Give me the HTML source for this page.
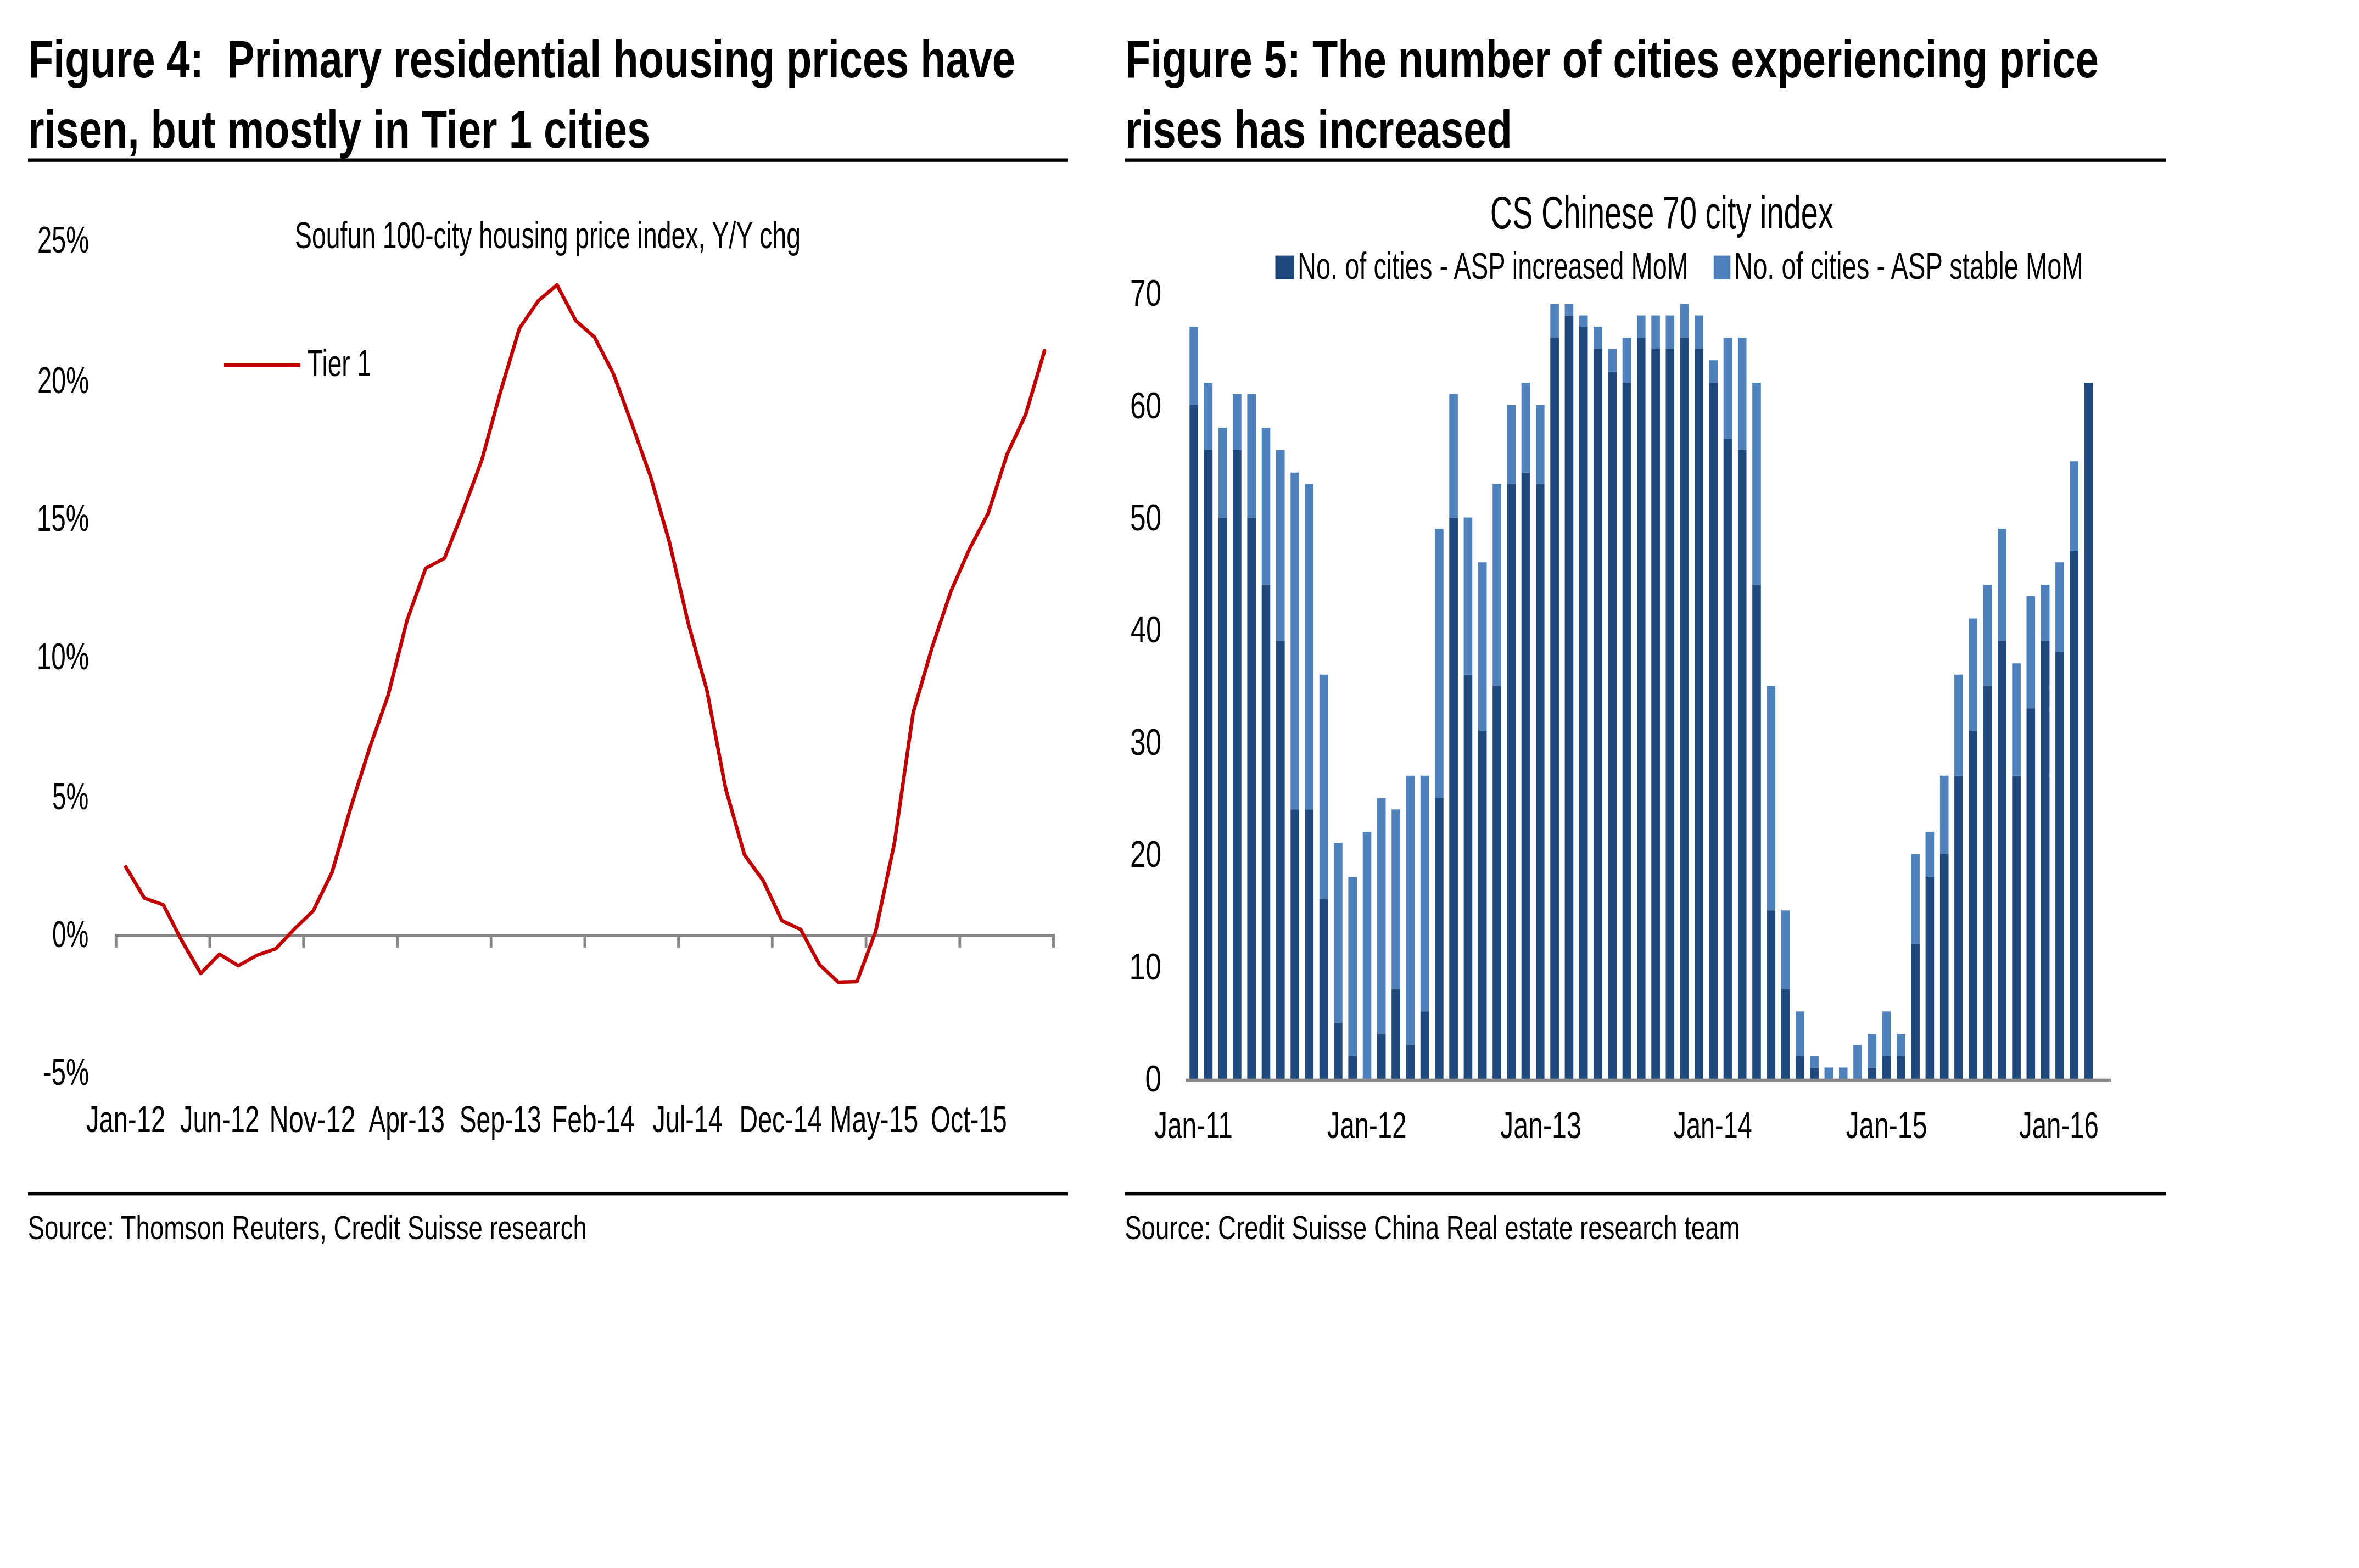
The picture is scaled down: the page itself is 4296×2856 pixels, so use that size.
<!DOCTYPE html>
<html lang="en"><head><meta charset="utf-8"><title>Figure 4 / Figure 5</title>
<style>html,body{margin:0;padding:0;background:#fff;}svg{display:block;}text{font-family:"Liberation Sans",sans-serif;fill:#000;}.b{font-weight:bold;}</style></head><body>
<svg width="4296" height="2856" viewBox="0 0 4296 2856">
<rect x="0" y="0" width="4296" height="2856" fill="#ffffff"/>
<rect x="51" y="288.5" width="1894" height="6.3" fill="#000"/>
<rect x="51" y="2171.6" width="1894" height="5.8" fill="#000"/>
<rect x="2049" y="288.5" width="1895" height="6.3" fill="#000"/>
<rect x="2049" y="2171.6" width="1895" height="5.8" fill="#000"/>
<text x="51.0" y="141.3" font-size="97" class="b" textLength="1798.0" lengthAdjust="spacingAndGlyphs" xml:space="preserve">Figure 4:  Primary residential housing prices have</text>
<text x="51.0" y="269.3" font-size="97" class="b" textLength="1133.1" lengthAdjust="spacingAndGlyphs" xml:space="preserve">risen, but mostly in Tier 1 cities</text>
<text x="2049.0" y="141.3" font-size="97" class="b" textLength="1773.0" lengthAdjust="spacingAndGlyphs" xml:space="preserve">Figure 5: The number of cities experiencing price</text>
<text x="2048.9" y="269.3" font-size="97" class="b" textLength="705.1" lengthAdjust="spacingAndGlyphs" xml:space="preserve">rises has increased</text>
<text x="50.6" y="2256.6" font-size="61" textLength="1018.4" lengthAdjust="spacingAndGlyphs" xml:space="preserve">Source: Thomson Reuters, Credit Suisse research</text>
<text x="2048.2" y="2256.8" font-size="61" textLength="1120.4" lengthAdjust="spacingAndGlyphs" xml:space="preserve">Source: Credit Suisse China Real estate research team</text>
<text x="67.9" y="459.8" font-size="68" textLength="94.4" lengthAdjust="spacingAndGlyphs" xml:space="preserve">25%</text>
<text x="67.9" y="716.0" font-size="68" textLength="94.4" lengthAdjust="spacingAndGlyphs" xml:space="preserve">20%</text>
<text x="66.8" y="967.0" font-size="68" textLength="95.4" lengthAdjust="spacingAndGlyphs" xml:space="preserve">15%</text>
<text x="66.8" y="1219.0" font-size="68" textLength="95.4" lengthAdjust="spacingAndGlyphs" xml:space="preserve">10%</text>
<text x="94.9" y="1474.0" font-size="68" textLength="66.3" lengthAdjust="spacingAndGlyphs" xml:space="preserve">5%</text>
<text x="94.9" y="1724.5" font-size="68" textLength="66.3" lengthAdjust="spacingAndGlyphs" xml:space="preserve">0%</text>
<text x="77.7" y="1976.0" font-size="68" textLength="84.6" lengthAdjust="spacingAndGlyphs" xml:space="preserve">-5%</text>
<text x="537.0" y="452.0" font-size="68" textLength="921.0" lengthAdjust="spacingAndGlyphs" xml:space="preserve">Soufun 100-city housing price index, Y/Y chg</text>
<text x="560.0" y="685.0" font-size="68" textLength="116.1" lengthAdjust="spacingAndGlyphs" xml:space="preserve">Tier 1</text>
<text x="157.0" y="2061.5" font-size="68" textLength="144.1" lengthAdjust="spacingAndGlyphs" xml:space="preserve">Jan-12</text>
<text x="328.0" y="2061.5" font-size="68" textLength="144.1" lengthAdjust="spacingAndGlyphs" xml:space="preserve">Jun-12</text>
<text x="490.5" y="2061.5" font-size="68" textLength="157.2" lengthAdjust="spacingAndGlyphs" xml:space="preserve">Nov-12</text>
<text x="671.4" y="2061.5" font-size="68" textLength="138.6" lengthAdjust="spacingAndGlyphs" xml:space="preserve">Apr-13</text>
<text x="836.7" y="2061.5" font-size="68" textLength="149.1" lengthAdjust="spacingAndGlyphs" xml:space="preserve">Sep-13</text>
<text x="1003.9" y="2061.5" font-size="68" textLength="152.2" lengthAdjust="spacingAndGlyphs" xml:space="preserve">Feb-14</text>
<text x="1188.6" y="2061.5" font-size="68" textLength="127.2" lengthAdjust="spacingAndGlyphs" xml:space="preserve">Jul-14</text>
<text x="1346.5" y="2061.5" font-size="68" textLength="150.2" lengthAdjust="spacingAndGlyphs" xml:space="preserve">Dec-14</text>
<text x="1511.3" y="2061.5" font-size="68" textLength="161.2" lengthAdjust="spacingAndGlyphs" xml:space="preserve">May-15</text>
<text x="1695.1" y="2061.5" font-size="68" textLength="138.7" lengthAdjust="spacingAndGlyphs" xml:space="preserve">Oct-15</text>
<text x="2713.8" y="416.0" font-size="84" textLength="625.0" lengthAdjust="spacingAndGlyphs" xml:space="preserve">CS Chinese 70 city index</text>
<text x="2363.0" y="508.0" font-size="68" textLength="711.9" lengthAdjust="spacingAndGlyphs" xml:space="preserve">No. of cities - ASP increased MoM</text>
<text x="3158.1" y="508.0" font-size="68" textLength="635.7" lengthAdjust="spacingAndGlyphs" xml:space="preserve">No. of cities - ASP stable MoM</text>
<text x="2085.6" y="1988.0" font-size="68" textLength="29.6" lengthAdjust="spacingAndGlyphs" xml:space="preserve">0</text>
<text x="2056.6" y="1783.6" font-size="68" textLength="58.5" lengthAdjust="spacingAndGlyphs" xml:space="preserve">10</text>
<text x="2057.9" y="1579.2" font-size="68" textLength="57.3" lengthAdjust="spacingAndGlyphs" xml:space="preserve">20</text>
<text x="2057.9" y="1374.8" font-size="68" textLength="57.3" lengthAdjust="spacingAndGlyphs" xml:space="preserve">30</text>
<text x="2059.0" y="1170.4" font-size="68" textLength="56.1" lengthAdjust="spacingAndGlyphs" xml:space="preserve">40</text>
<text x="2057.9" y="966.0" font-size="68" textLength="57.3" lengthAdjust="spacingAndGlyphs" xml:space="preserve">50</text>
<text x="2057.9" y="761.6" font-size="68" textLength="57.3" lengthAdjust="spacingAndGlyphs" xml:space="preserve">60</text>
<text x="2057.9" y="557.2" font-size="68" textLength="57.3" lengthAdjust="spacingAndGlyphs" xml:space="preserve">70</text>
<text x="2102.0" y="2073.4" font-size="68" textLength="142.9" lengthAdjust="spacingAndGlyphs" xml:space="preserve">Jan-11</text>
<text x="2416.8" y="2073.4" font-size="68" textLength="144.7" lengthAdjust="spacingAndGlyphs" xml:space="preserve">Jan-12</text>
<text x="2732.0" y="2073.4" font-size="68" textLength="147.8" lengthAdjust="spacingAndGlyphs" xml:space="preserve">Jan-13</text>
<text x="3047.4" y="2073.4" font-size="68" textLength="143.6" lengthAdjust="spacingAndGlyphs" xml:space="preserve">Jan-14</text>
<text x="3361.6" y="2073.4" font-size="68" textLength="148.0" lengthAdjust="spacingAndGlyphs" xml:space="preserve">Jan-15</text>
<text x="3677.0" y="2073.4" font-size="68" textLength="144.9" lengthAdjust="spacingAndGlyphs" xml:space="preserve">Jan-16</text>
<rect x="407.9" y="661" width="139.2" height="7" fill="#c00000"/>
<rect x="208.9" y="1701" width="1712" height="5.9" fill="#858585"/>
<rect x="208.9" y="1701" width="4.8" height="24.9" fill="#858585"/>
<rect x="379.6" y="1701" width="4.8" height="24.9" fill="#858585"/>
<rect x="550.3" y="1701" width="4.8" height="24.9" fill="#858585"/>
<rect x="721.1" y="1701" width="4.8" height="24.9" fill="#858585"/>
<rect x="891.8" y="1701" width="4.8" height="24.9" fill="#858585"/>
<rect x="1062.5" y="1701" width="4.8" height="24.9" fill="#858585"/>
<rect x="1233.2" y="1701" width="4.8" height="24.9" fill="#858585"/>
<rect x="1403.9" y="1701" width="4.8" height="24.9" fill="#858585"/>
<rect x="1574.7" y="1701" width="4.8" height="24.9" fill="#858585"/>
<rect x="1745.4" y="1701" width="4.8" height="24.9" fill="#858585"/>
<rect x="1916.1" y="1701" width="4.8" height="24.9" fill="#858585"/>
<polyline points="229.0,1579 263.1,1636 297.3,1648 331.4,1714 365.6,1773 399.7,1738 433.9,1759 468.0,1740 502.2,1728 536.3,1692 570.4,1659 604.6,1589 638.7,1471 672.9,1363 707.0,1266 741.2,1130 775.3,1035 809.4,1017 843.6,930 877.7,837 911.9,712 946.0,598 980.2,548 1014.3,519 1048.5,584 1082.6,614 1116.7,680 1150.9,773 1185.0,869 1219.2,988 1253.3,1135 1287.5,1258 1321.6,1437 1355.8,1557 1389.9,1604 1424.0,1677 1458.2,1693 1492.3,1757 1526.5,1789 1560.6,1788 1594.8,1696 1628.9,1535 1663.0,1298 1697.2,1180 1731.3,1078 1765.5,1000 1799.6,935 1833.8,828 1867.9,755 1902.1,639" fill="none" stroke="#c00000" stroke-width="6.5" stroke-linejoin="round" stroke-linecap="round"/>
<rect x="2322.5" y="465.6" width="34" height="43.3" fill="#1f497d"/>
<rect x="3120.8" y="465.6" width="30.5" height="43.3" fill="#4f81bd"/>
<path d="M2166.3 594.9h15.6V738.0h-15.6zM2192.6 697.1h15.6V819.8h-15.6zM2218.9 778.9h15.6V942.5h-15.6zM2245.1 717.5h15.6V819.8h-15.6zM2271.4 717.5h15.6V942.5h-15.6zM2297.7 778.9h15.6V1065.2h-15.6zM2324.0 819.8h15.6V1167.5h-15.6zM2350.3 860.7h15.6V1474.2h-15.6zM2376.5 881.2h15.6V1474.2h-15.6zM2402.8 1228.8h15.6V1637.8h-15.6zM2429.1 1535.5h15.6V1862.8h-15.6zM2455.4 1596.9h15.6V1924.1h-15.6zM2481.7 1515.1h15.6V1965.0h-15.6zM2507.9 1453.8h15.6V1883.2h-15.6zM2534.2 1474.2h15.6V1801.4h-15.6zM2560.5 1412.8h15.6V1903.7h-15.6zM2586.8 1412.8h15.6V1842.3h-15.6zM2613.1 963.0h15.6V1453.8h-15.6zM2639.3 717.5h15.6V942.5h-15.6zM2665.6 942.5h15.6V1228.8h-15.6zM2691.9 1024.3h15.6V1331.1h-15.6zM2718.2 881.2h15.6V1249.2h-15.6zM2744.5 738.0h15.6V881.2h-15.6zM2770.7 697.1h15.6V860.7h-15.6zM2797.0 738.0h15.6V881.2h-15.6zM2823.3 554.0h15.6V615.3h-15.6zM2849.6 554.0h15.6V574.4h-15.6zM2875.9 574.4h15.6V594.9h-15.6zM2902.1 594.9h15.6V635.8h-15.6zM2928.4 635.8h15.6V676.7h-15.6zM2954.7 615.3h15.6V697.1h-15.6zM2981.0 574.4h15.6V615.3h-15.6zM3007.3 574.4h15.6V635.8h-15.6zM3033.5 574.4h15.6V635.8h-15.6zM3059.8 554.0h15.6V615.3h-15.6zM3086.1 574.4h15.6V635.8h-15.6zM3112.4 656.2h15.6V697.1h-15.6zM3138.7 615.3h15.6V799.4h-15.6zM3164.9 615.3h15.6V819.8h-15.6zM3191.2 697.1h15.6V1065.2h-15.6zM3217.5 1249.2h15.6V1658.2h-15.6zM3243.8 1658.2h15.6V1801.4h-15.6zM3270.1 1842.3h15.6V1924.1h-15.6zM3296.3 1924.1h15.6V1944.5h-15.6zM3322.6 1944.5h15.6V1965.0h-15.6zM3348.9 1944.5h15.6V1965.0h-15.6zM3375.2 1903.7h15.6V1965.0h-15.6zM3401.5 1883.2h15.6V1944.5h-15.6zM3427.7 1842.3h15.6V1924.1h-15.6zM3454.0 1883.2h15.6V1924.1h-15.6zM3480.3 1556.0h15.6V1719.6h-15.6zM3506.6 1515.1h15.6V1596.9h-15.6zM3532.9 1412.8h15.6V1556.0h-15.6zM3559.1 1228.8h15.6V1412.8h-15.6zM3585.4 1126.6h15.6V1331.1h-15.6zM3611.7 1065.2h15.6V1249.2h-15.6zM3638.0 963.0h15.6V1167.5h-15.6zM3664.3 1208.3h15.6V1412.8h-15.6zM3690.5 1085.7h15.6V1290.2h-15.6zM3716.8 1065.2h15.6V1167.5h-15.6zM3743.1 1024.3h15.6V1187.9h-15.6zM3769.4 840.2h15.6V1003.9h-15.6z" fill="#4f81bd"/>
<path d="M2166.3 738.0h15.6V1965.0h-15.6zM2192.6 819.8h15.6V1965.0h-15.6zM2218.9 942.5h15.6V1965.0h-15.6zM2245.1 819.8h15.6V1965.0h-15.6zM2271.4 942.5h15.6V1965.0h-15.6zM2297.7 1065.2h15.6V1965.0h-15.6zM2324.0 1167.5h15.6V1965.0h-15.6zM2350.3 1474.2h15.6V1965.0h-15.6zM2376.5 1474.2h15.6V1965.0h-15.6zM2402.8 1637.8h15.6V1965.0h-15.6zM2429.1 1862.8h15.6V1965.0h-15.6zM2455.4 1924.1h15.6V1965.0h-15.6zM2507.9 1883.2h15.6V1965.0h-15.6zM2534.2 1801.4h15.6V1965.0h-15.6zM2560.5 1903.7h15.6V1965.0h-15.6zM2586.8 1842.3h15.6V1965.0h-15.6zM2613.1 1453.8h15.6V1965.0h-15.6zM2639.3 942.5h15.6V1965.0h-15.6zM2665.6 1228.8h15.6V1965.0h-15.6zM2691.9 1331.1h15.6V1965.0h-15.6zM2718.2 1249.2h15.6V1965.0h-15.6zM2744.5 881.2h15.6V1965.0h-15.6zM2770.7 860.7h15.6V1965.0h-15.6zM2797.0 881.2h15.6V1965.0h-15.6zM2823.3 615.3h15.6V1965.0h-15.6zM2849.6 574.4h15.6V1965.0h-15.6zM2875.9 594.9h15.6V1965.0h-15.6zM2902.1 635.8h15.6V1965.0h-15.6zM2928.4 676.7h15.6V1965.0h-15.6zM2954.7 697.1h15.6V1965.0h-15.6zM2981.0 615.3h15.6V1965.0h-15.6zM3007.3 635.8h15.6V1965.0h-15.6zM3033.5 635.8h15.6V1965.0h-15.6zM3059.8 615.3h15.6V1965.0h-15.6zM3086.1 635.8h15.6V1965.0h-15.6zM3112.4 697.1h15.6V1965.0h-15.6zM3138.7 799.4h15.6V1965.0h-15.6zM3164.9 819.8h15.6V1965.0h-15.6zM3191.2 1065.2h15.6V1965.0h-15.6zM3217.5 1658.2h15.6V1965.0h-15.6zM3243.8 1801.4h15.6V1965.0h-15.6zM3270.1 1924.1h15.6V1965.0h-15.6zM3296.3 1944.5h15.6V1965.0h-15.6zM3401.5 1944.5h15.6V1965.0h-15.6zM3427.7 1924.1h15.6V1965.0h-15.6zM3454.0 1924.1h15.6V1965.0h-15.6zM3480.3 1719.6h15.6V1965.0h-15.6zM3506.6 1596.9h15.6V1965.0h-15.6zM3532.9 1556.0h15.6V1965.0h-15.6zM3559.1 1412.8h15.6V1965.0h-15.6zM3585.4 1331.1h15.6V1965.0h-15.6zM3611.7 1249.2h15.6V1965.0h-15.6zM3638.0 1167.5h15.6V1965.0h-15.6zM3664.3 1412.8h15.6V1965.0h-15.6zM3690.5 1290.2h15.6V1965.0h-15.6zM3716.8 1167.5h15.6V1965.0h-15.6zM3743.1 1187.9h15.6V1965.0h-15.6zM3769.4 1003.9h15.6V1965.0h-15.6zM3795.7 697.1h15.6V1965.0h-15.6z" fill="#1f497d"/>
<rect x="2159" y="1964.7" width="1686" height="5.8" fill="#8a8a8c"/>
</svg></body></html>
